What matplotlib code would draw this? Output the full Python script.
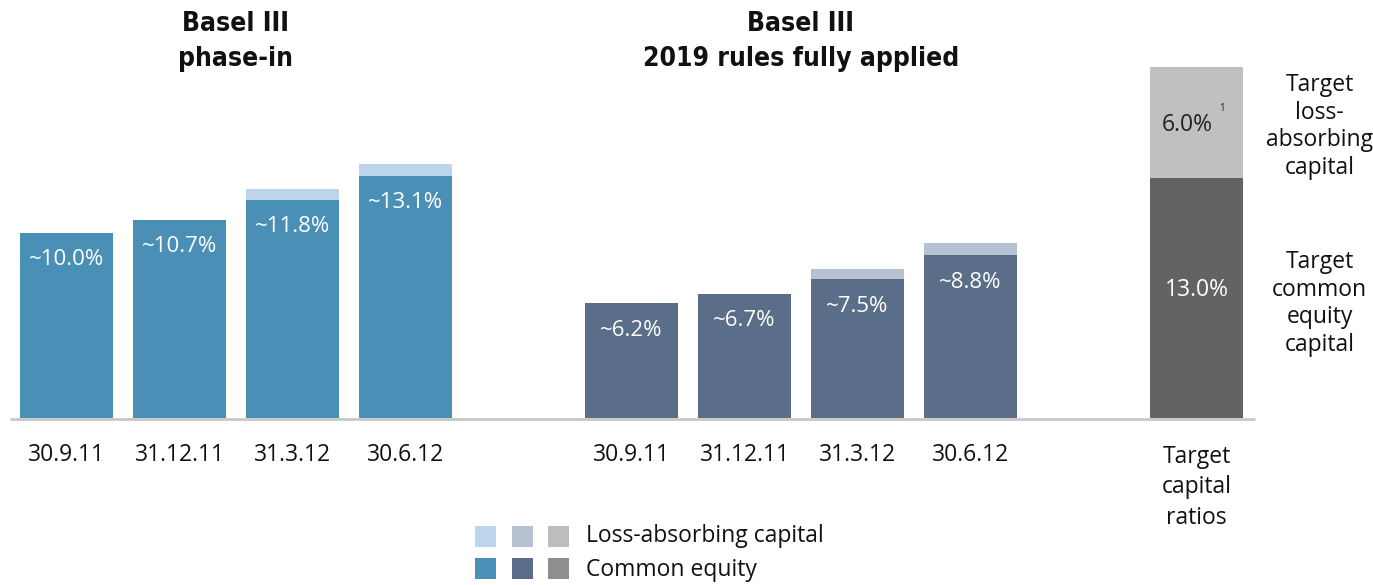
import matplotlib.pyplot as plt
from matplotlib.patches import Rectangle

plt.rcParams['font.family'] = ['Open Sans', 'DejaVu Sans']

dates = ['30.9.11', '31.12.11', '31.3.12', '30.6.12']
phase_in_ce = [10.0, 10.7, 11.8, 13.1]
phase_in_lac = [0.0, 0.0, 0.6, 0.65]
full_ce = [6.2, 6.7, 7.5, 8.8]
full_lac = [0.0, 0.0, 0.55, 0.65]
target_ce = 13.0
target_lac = 6.0

pos_left = [0, 1, 2, 3]
pos_mid = [5, 6, 7, 8]
pos_target = 10

blue = '#4a90b6'
blue_l = '#bcd5ec'
slate = '#5a6e89'
slate_l = '#b6c1d2'
grey = '#636363'
grey_l = '#c0c0c0'
width = 0.82
fs = 16.5

fig = plt.figure(figsize=(13.73, 5.85), dpi=100)
ax = fig.add_axes([0, 0, 1, 1])
# full-figure axes: 113 px per slot, 18.5 px per percent, baseline at y=418 px
ax.set_xlim(-66.5 / 113, (1373 - 66.5) / 113)
ax.set_ylim(-(585 - 418) / 18.5, 418 / 18.5)
ax.axis('off')

ax.bar(pos_left, phase_in_ce, width, color=blue)
ax.bar(pos_left, phase_in_lac, width, bottom=phase_in_ce, color=blue_l)
ax.bar(pos_mid, full_ce, width, color=slate)
ax.bar(pos_mid, full_lac, width, bottom=full_ce, color=slate_l)
ax.bar(pos_target, target_ce, width, color=grey)
ax.bar(pos_target, target_lac, width, bottom=target_ce, color=grey_l)

ax.plot([-0.5, 10.52], [-0.05, -0.05], color='#c8c8c8', lw=2, solid_capstyle='butt')

for x, v in zip(pos_left + pos_mid, phase_in_ce + full_ce):
    ax.text(x, v - 1.45, '~%.1f%%' % v, ha='center', va='center',
            color='white', fontsize=16)

for x, d in zip(pos_left + pos_mid, dates + dates):
    ax.text(x, -2.0, d, ha='center', va='center', fontsize=fs, color='#111111')

ax.text(pos_target - 0.08, target_ce + target_lac / 2 - 0.15, '6.0%', ha='center',
        va='center', fontsize=fs, color='#222222')
ax.text(pos_target + 0.225, target_ce + target_lac / 2 + 0.75, '1', ha='center',
        va='center', fontsize=7, color='#222222')
ax.text(pos_target, target_ce / 2 + 0.42, '%.1f%%' % target_ce, ha='center',
        va='center', fontsize=fs, color='white')
ax.text(pos_target, -3.75, 'Target\ncapital\nratios', ha='center', va='center',
        fontsize=fs, color='#111111', linespacing=1.35)

ax.text(11.09, 15.75, 'Target\nloss-\nabsorbing\ncapital', ha='center', va='center',
        fontsize=fs, color='#111111', linespacing=1.2)
ax.text(11.09, 6.2, 'Target\ncommon\nequity\ncapital', ha='center', va='center',
        fontsize=fs, color='#111111', linespacing=1.2)

title_font = dict(fontsize=19, fontweight='bold', family='DejaVu Sans', fontstretch='condensed',
                  ha='center', va='center', color='#111111')
ax.text(1.5, 21.3, 'Basel III', **title_font)
ax.text(1.5, 19.4, 'phase-in', **title_font)
ax.text(6.5, 21.3, 'Basel III', **title_font)
ax.text(6.5, 19.4, '2019 rules fully applied', **title_font)

# legend squares drawn in data space
sq_w = 21 / 113
sq_h = 21 / 18.5
legend_top = [blue_l, slate_l, '#bdbdbd']
legend_bot = [blue, slate, '#8e8e8e']
sq_x = [475, 512, 548]
for px, ct, cb in zip(sq_x, legend_top, legend_bot):
    x0 = (px - 66.5) / 113
    ax.add_patch(Rectangle((x0, (418 - 547) / 18.5), sq_w, sq_h, color=ct, lw=0))
    ax.add_patch(Rectangle((x0, (418 - 579) / 18.5), sq_w, sq_h, color=cb, lw=0))
ax.text((586 - 66.5) / 113, (418 - 536) / 18.5, 'Loss-absorbing capital',
        ha='left', va='center', fontsize=fs, color='#111111')
ax.text((586 - 66.5) / 113, (418 - 570) / 18.5, 'Common equity',
        ha='left', va='center', fontsize=fs, color='#111111')

fig.savefig('out.png', dpi=100, facecolor='white')
